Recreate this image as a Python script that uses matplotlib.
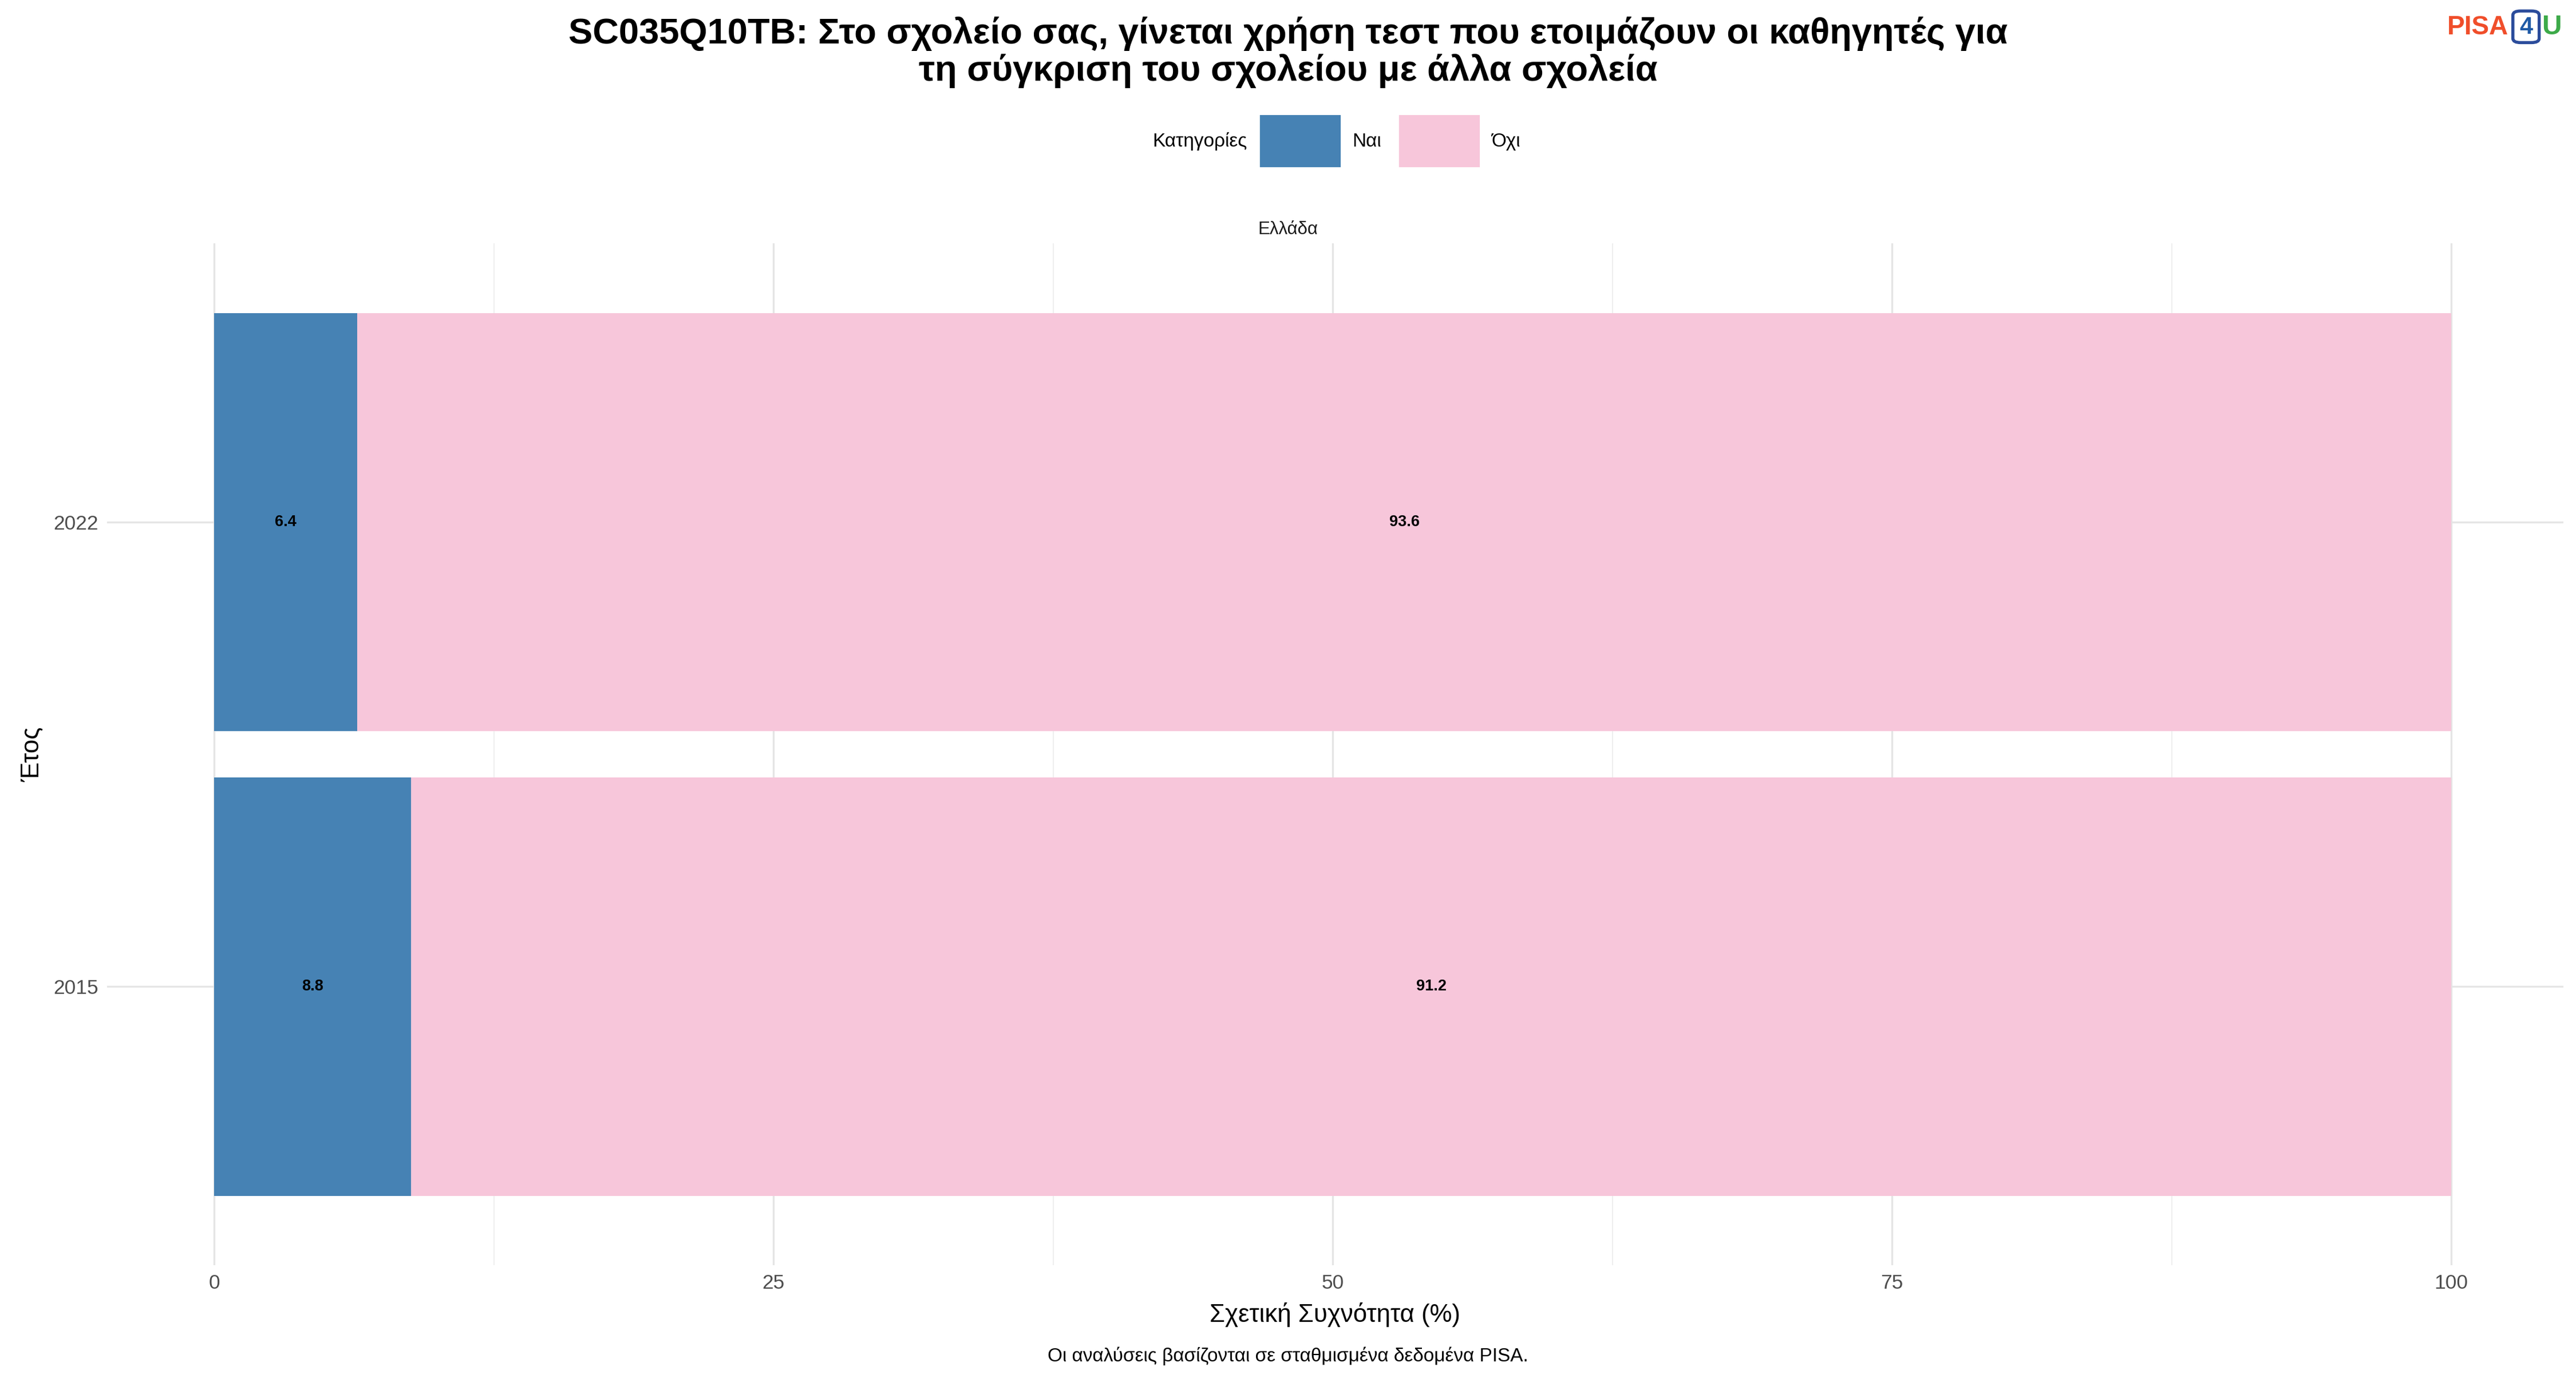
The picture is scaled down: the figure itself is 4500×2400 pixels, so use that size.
import matplotlib
matplotlib.use("Agg")
import matplotlib.pyplot as plt
from matplotlib.patches import Rectangle, FancyBboxPatch

plt.rcParams['font.family'] = ['Liberation Sans', 'DejaVu Sans']

years = ["2015", "2022"]
nai = [8.8, 6.4]
oxi = [91.2, 93.6]
categories = ["Ναι", "Όχι"]
colors = ["#4682B4", "#F7C6DA"]

fig = plt.figure(figsize=(15, 8), dpi=300)
ax = fig.add_axes([0.0415, 0.079, 0.9535, 0.744])
pos = list(range(len(years)))
ax.barh(pos, nai, height=0.9, color=colors[0], zorder=3)
ax.barh(pos, oxi, left=nai, height=0.9, color=colors[1], zorder=3)
for p, a, b in zip(pos, nai, oxi):
    ax.text(a/2, p, f"{a:.1f}", ha='center', va='center', fontsize=6.5, fontweight='bold', zorder=4)
    ax.text(a + b/2, p, f"{b:.1f}", ha='center', va='center', fontsize=6.5, fontweight='bold', zorder=4)
ax.set_xlim(-4.8, 105)
ax.set_ylim(-0.6, 1.6)
ax.set_xticks([0, 25, 50, 75, 100])
ax.set_xticks([12.5, 37.5, 62.5, 87.5], minor=True)
ax.set_yticks(pos)
ax.set_yticklabels(years)
ax.grid(True, which='major', color='#E5E5E5', lw=0.8, zorder=0)
ax.grid(True, which='minor', axis='x', color='#EFEFEF', lw=0.5, zorder=0)
for s in ax.spines.values():
    s.set_visible(False)
ax.tick_params(length=0, labelsize=8.5, colors='#4D4D4D')
ax.tick_params(which='minor', length=0)
ax.set_xlabel("Σχετική Συχνότητα (%)", fontsize=10.5, labelpad=4)
ax.set_ylabel("Έτος", fontsize=10.5)

fig.text(0.5, 0.833, "Ελλάδα", ha='center', va='center', fontsize=7.5, color='#1A1A1A')
fig.text(0.5, 0.962, "SC035Q10TB: Στο σχολείο σας, γίνεται χρήση τεστ που ετοιμάζουν οι καθηγητές για\nτη σύγκριση του σχολείου με άλλα σχολεία",
         ha='center', va='center', fontsize=15.2, fontweight='bold', linespacing=1.1)
fig.text(0.5, 0.013, "Οι αναλύσεις βασίζονται σε σταθμισμένα δεδομένα PISA.", ha='center', va='center', fontsize=8)

# legend
fig.text(0.484, 0.897, "Κατηγορίες", ha='right', va='center', fontsize=8)
fig.patches.append(Rectangle((0.4895, 0.879), 0.0305, 0.0365, transform=fig.transFigure, color=colors[0]))
fig.text(0.525, 0.897, categories[0], ha='left', va='center', fontsize=8)
fig.patches.append(Rectangle((0.5435, 0.879), 0.0305, 0.0365, transform=fig.transFigure, color=colors[1]))
fig.text(0.579, 0.897, categories[1], ha='left', va='center', fontsize=8)

# logo
fig.text(0.950, 0.980, "PISA", ha='left', va='center', fontsize=11, fontweight='bold', color='#F04E2A')
fig.patches.append(FancyBboxPatch((0.9765, 0.970), 0.0082, 0.021, boxstyle="round,pad=0.001,rounding_size=0.003",
                                  transform=fig.transFigure, fill=False, ec='#2B4C9B', lw=1.3))
fig.text(0.9806, 0.980, "4", ha='center', va='center', fontsize=10, fontweight='bold', color='#1F5AA6')
fig.text(0.9868, 0.980, "U", ha='left', va='center', fontsize=11.5, fontweight='bold', color='#3DAA49')

fig.savefig("out.png", dpi=300)
